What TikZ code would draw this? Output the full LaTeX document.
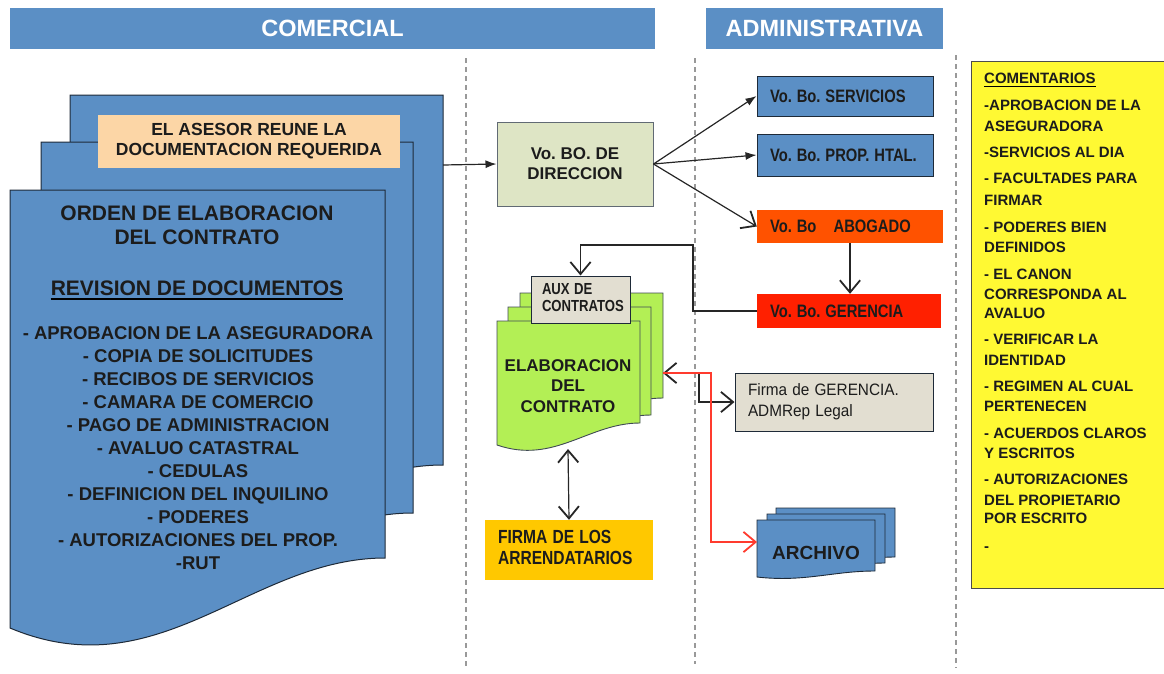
\documentclass[tikz,border=0pt]{standalone}
\usepackage{fontspec}
\setmainfont{Liberation Sans}
\usepackage{graphicx}
\usetikzlibrary{arrows.meta,calc}

\definecolor{hdrblue}{HTML}{5B8FC5}
\definecolor{docblue}{HTML}{5B8FC5}
\definecolor{edge}{HTML}{1E2A38}
\definecolor{peach}{HTML}{FCD6A6}
\definecolor{olive}{HTML}{DEE5C5}
\definecolor{abog}{HTML}{FF5200}
\definecolor{geren}{HTML}{FF2000}
\definecolor{lime}{HTML}{B3EF55}
\definecolor{gold}{HTML}{FFC800}
\definecolor{beige}{HTML}{E2DED1}
\definecolor{note}{HTML}{FFF933}
\definecolor{redline}{HTML}{FF3B2E}
\definecolor{ink}{HTML}{1C1C1C}

% page with a wavy bottom: style, x, y, width, depth at right, depth at left
\newcommand\docpage[6]{%
  \path[#1] (#2,#3) -- ({#2+#4},#3) -- ({#2+#4},{#3+#5})
    .. controls ({#2+0.64*#4},{#3+#5}) and ({#2+0.4*#4},{#3+#6+0.9*(#6-#5)}) .. (#2,{#3+#6}) -- cycle;}
\newcommand\fsz[2]{\fontsize{#1}{#2}\selectfont}
\newcommand\narr[1]{\scalebox{0.82}[1]{#1}}
\newcommand\narrstack[1]{\scalebox{0.82}[1]{\begin{tabular}{@{}l@{}}#1\end{tabular}}}
\frenchspacing

\begin{document}
\begin{tikzpicture}[x=1pt,y=-1pt,text=ink,
  >={Straight Barb[length=9pt,width=15pt,line width=1.8pt,scale=1.35]},
  lane/.style={fill=hdrblue,text=white,inner sep=0pt,font=\fsz{23.5}{26}\bfseries},
  divider/.style={draw=gray!80,line width=1.2pt,dash pattern=on 5pt off 4pt},
  page/.style={fill=docblue,draw=edge,line width=1pt},
  greenpage/.style={fill=lime,draw=edge!85,line width=0.9pt},
  filedoc/.style={fill=docblue,draw=edge,line width=0.9pt},
  vobox/.style={align=left,inner xsep=13pt,inner ysep=0pt,font=\fsz{18}{20}\bfseries},
  flow/.style={draw=black!85,line width=1.2pt},
  tipfill/.style={-{Latex[length=11pt,width=8pt]}},
  redflow/.style={draw=redline,line width=1.2pt,->},
  listline/.style={font=\fsz{18.5}{22}\bfseries,anchor=base,inner sep=0pt},
  noteline/.style={font=\fsz{15}{18}\bfseries,anchor=base west,inner sep=0pt}
]
\useasboundingbox (0,0) rectangle (1164,673);

% lane headers
\node[lane,minimum width=645pt,minimum height=41pt] (comercial) at (332.5,28.5) {COMERCIAL};
\node[lane,minimum width=237pt,minimum height=41pt] (admin) at (824.5,28.5) {ADMINISTRATIVA};

% lane dividers
\draw[divider] (466,58) -- (466,668);
\draw[divider] (695,58) -- (695,664);
\draw[divider] (956,55) -- (956,668);

% stack of documents on the left
\docpage{page}{70}{95}{373}{370}{440}
\docpage{page}{41}{142}{372}{371}{441}
\docpage{page}{10}{190}{375}{368}{438}
\coordinate (stack-e) at (443,165);

\node[fill=peach,minimum width=302pt,minimum height=53pt,align=center,
  font=\fsz{17.5}{20}\bfseries] (asesor) at (249,141.5)
  {EL ASESOR REUNE LA\\DOCUMENTACION REQUERIDA};

\node[font=\fsz{21}{24}\bfseries,align=center,inner sep=0pt] (orden) at (197,225)
  {ORDEN DE ELABORACION\\DEL CONTRATO};
\node[font=\fsz{21}{24}\bfseries,inner sep=0pt] (rev) at (197,288) {REVISION DE DOCUMENTOS};
\draw[line width=1.5pt] ([yshift=-4pt]rev.base west) -- ([yshift=-4pt]rev.base east);

\foreach \t [count=\i] in {- APROBACION DE LA ASEGURADORA,- COPIA DE SOLICITUDES,
  - RECIBOS DE SERVICIOS,- CAMARA DE COMERCIO,- PAGO DE ADMINISTRACION,
  - AVALUO CATASTRAL,- CEDULAS,- DEFINICION DEL INQUILINO,- PODERES,
  - AUTORIZACIONES DEL PROP.,-RUT}
  \node[listline] (req\i) at (198,{339.6+23*(\i-1)}) {\t};

% approval boxes
\node[draw=edge!70,line width=1pt,fill=olive,minimum width=156pt,minimum height=84pt,
  align=center,font=\fsz{17}{20}\bfseries] (dir) at (575,164) {Vo. BO. DE\\DIRECCION};

\node[vobox,fill=docblue,draw=edge,line width=1pt,text width=150pt,minimum height=40pt]
  (serv) at (845,96) {\narr{Vo. Bo. SERVICIOS}};
\node[vobox,fill=docblue,draw=edge,line width=1pt,text width=150pt,minimum height=42pt]
  (prop) at (845,155) {\narr{Vo. Bo. PROP. HTAL.}};
\node[vobox,fill=abog,text width=160pt,minimum height=33pt]
  (abog) at (850,226.5) {\narr{Vo. Bo\hspace{21pt}ABOGADO}};
\node[vobox,fill=geren,text width=158pt,minimum height=34pt]
  (ger) at (849,311) {\narr{Vo. Bo. GERENCIA}};

% contract drafting stack
\docpage{greenpage}{520}{293}{143}{105}{127}
\docpage{greenpage}{508}{307}{143}{108}{130}
\docpage{greenpage}{497}{321}{143}{102}{124}
\coordinate (gr-e) at (663,373);
\coordinate (gr-s) at (568,449);
\node[font=\fsz{17}{20.5}\bfseries,align=center,inner sep=0pt] (elab) at (568,386)
  {ELABORACION\\DEL\\CONTRATO};

\node[draw=edge,line width=1pt,fill=beige,text width=77pt,inner xsep=11pt,inner ysep=0pt,
  minimum height=47pt,align=left,font=\fsz{16}{16.5}\bfseries] (aux) at (580.5,299.5)
  {\narrstack{AUX DE\\CONTRATOS}};

\node[fill=gold,minimum height=60pt,text width=142pt,inner xsep=13pt,align=left,
  font=\fsz{19}{21}\bfseries] (farr) at (569,550) {\narrstack{FIRMA DE LOS\\ARRENDATARIOS}};

\node[draw=edge,line width=1pt,fill=beige,minimum height=58pt,text width=172pt,
  inner xsep=13pt,align=left,font=\fsz{16.5}{21}] (fger) at (834,402)
  {\scalebox{0.93}[1]{\begin{tabular}{@{}l@{}}Firma de GERENCIA.\\ADMRep Legal\end{tabular}}};

% archive stack
\docpage{filedoc}{776}{508}{119}{49}{57}
\docpage{filedoc}{767}{514}{118}{49}{57}
\docpage{filedoc}{757}{520}{118}{51}{57}
\coordinate (arch-w) at (757,542);
\node[font=\fsz{19}{22}\bfseries,inner sep=0pt] (arch) at (816,553) {ARCHIVO};

% comments panel
\node[draw=gray!60!black,line width=1.2pt,fill=note,minimum width=200pt,minimum height=527pt,
  anchor=north west,inner sep=0pt] (notes) at (971,61) {};
\node[noteline] (ctitle) at (984,83.4) {COMENTARIOS};
\draw[line width=1.2pt] ([yshift=-3pt]ctitle.base west) -- ([yshift=-3pt]ctitle.base east);
\foreach \y/\t [count=\i] in {105/-APROBACION DE LA,126/ASEGURADORA,152/-SERVICIOS AL DIA,
  178/- FACULTADES PARA,200/FIRMAR,227/- PODERES BIEN,247/DEFINIDOS,274/- EL CANON,
  294/CORRESPONDA AL,313/AVALUO,339/- VERIFICAR LA,360/IDENTIDAD,386/- REGIMEN AL CUAL,
  406/PERTENECEN,433/- ACUERDOS CLAROS,453/Y ESCRITOS,479/- AUTORIZACIONES,
  500/DEL PROPIETARIO,518/POR ESCRITO,546/-}
  \node[noteline] (c\i) at (984,{\y+5.4}) {\t};

% connectors
\draw[flow,tipfill] (stack-e) -- (dir.west);
\draw[flow,tipfill] (dir.east) -- (serv.west);
\draw[flow,tipfill] (dir.east) -- (prop.west);
\draw[flow,->] (dir.east) -- (abog.west);
\draw[flow,->] (abog.south) -- (abog.south |- ger.north);
\coordinate (gbend) at (693,245);
\draw[flow,->] (ger.west) -| (gbend) -| (aux.north);
\coordinate (fbend) at (699,402);
\draw[flow,<->] (gr-e) -| (fbend) -- (fger.west);
\coordinate (rbend) at (711,542);
\draw[redflow] (gr-e) -| (rbend) -- (arch-w);
\draw[flow,<->] (gr-s) -- (farr.north);
\end{tikzpicture}
\end{document}
